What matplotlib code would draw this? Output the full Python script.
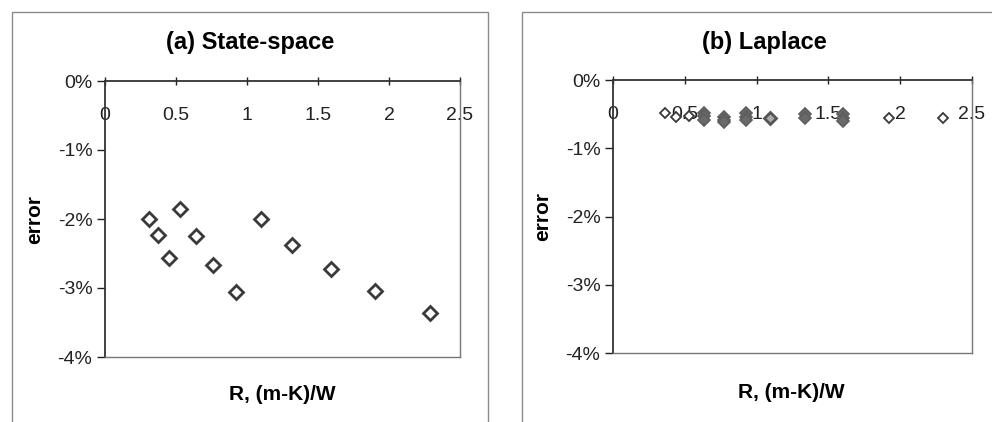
import matplotlib
matplotlib.use("Agg")
import matplotlib.pyplot as plt
from matplotlib.patches import Rectangle
from matplotlib.ticker import FuncFormatter

plt.rcParams['font.family'] = ['Liberation Sans', 'DejaVu Sans']
plt.rcParams['axes.unicode_minus'] = False

# (a) state-space: R vs error (%)
ss_r = [0.31, 0.37, 0.45, 0.53, 0.64, 0.76, 0.92, 1.10, 1.32, 1.59, 1.90, 2.29]
ss_err = [-2.00, -2.23, -2.57, -1.85, -2.24, -2.67, -3.06, -2.00, -2.37, -2.73, -3.04, -3.36]

# (b) laplace: single points (hollow) and stacked points (look filled)
lp_r = [0.36, 0.44, 0.53, 1.92, 2.30]
lp_err = [-0.48, -0.54, -0.53, -0.56, -0.55]
lp_dense_r = [0.635, 0.635, 0.635, 0.77, 0.77, 0.77, 0.925, 0.925, 0.925,
              1.335, 1.335, 1.60, 1.60, 1.60]
lp_dense_err = [-0.48, -0.53, -0.59, -0.54, -0.58, -0.62, -0.49, -0.54, -0.59,
                -0.50, -0.56, -0.50, -0.55, -0.60]
lp_light_r = [1.09]
lp_light_err = [-0.56]

xticks = [0, 0.5, 1, 1.5, 2, 2.5]
xlabels = ['0', '0.5', '1', '1.5', '2', '2.5']
yticks = [0, -1, -2, -3, -4]

fig = plt.figure(figsize=(9.92, 4.22), dpi=100)

# outer chart frames
fig.patches.append(Rectangle((12/992, -0.05), 476/992, 1 - 12/422 + 0.05,
                             transform=fig.transFigure, fill=False,
                             edgecolor='#8a8a8a', lw=1.0))
fig.patches.append(Rectangle((522/992, -0.05), 0.6, 1 - 12/422 + 0.05,
                             transform=fig.transFigure, fill=False,
                             edgecolor='#8a8a8a', lw=1.0))

ax1 = fig.add_axes([105/992, 1 - 357/422, 355/992, 276/422])
ax2 = fig.add_axes([613/992, 1 - 353/422, 359/992, 273/422])


def style(ax, title, pos):
    ax.set_xlim(0, 2.5)
    ax.set_ylim(-4, 0)
    ax.set_xticks(xticks)
    ax.set_xticklabels(xlabels)
    ax.set_yticks(yticks)
    ax.yaxis.set_major_formatter(FuncFormatter(lambda v, p: '%d%%' % round(v)))
    ax.xaxis.tick_top()
    ax.tick_params(axis='x', direction='inout', length=6, width=1, pad=-34,
                   labelsize=14, colors='#222222')
    ax.tick_params(axis='y', direction='out', length=6, width=1, pad=3,
                   labelsize=14, colors='#222222')
    for s in ['left', 'top']:
        ax.spines[s].set_color('#333333')
        ax.spines[s].set_linewidth(1.3)
    for s in ['right', 'bottom']:
        ax.spines[s].set_color('#777777')
        ax.spines[s].set_linewidth(1.0)
    ax.set_ylabel('error', fontsize=15, fontweight='bold', labelpad=10)
    fig.text(pos[0], pos[1], 'R, (m-K)/W', fontsize=15, fontweight='bold',
             ha='center', va='center')
    fig.text(pos[2], pos[3], title, fontsize=17, fontweight='bold',
             ha='center', va='center')


style(ax1, '(a) State-space', (282/992, 1 - 395/422, 250/992, 1 - 43/422))
style(ax2, '(b) Laplace', (791/992, 1 - 393/422, 764/992, 1 - 42/422))

ax1.plot(ss_r, ss_err, linestyle='none', marker='D', ms=6.8, mfc='white',
         mec='#3a3a3a', mew=2.0, clip_on=False)

ax2.plot(lp_dense_r, lp_dense_err, linestyle='none', marker='D', ms=6.5,
         mfc='#6a6a6a', mec='#5e5e5e', mew=1.2, clip_on=False)
ax2.plot(lp_light_r, lp_light_err, linestyle='none', marker='D', ms=6,
         mfc='#aaaaaa', mec='#555555', mew=2.0, clip_on=False)
ax2.plot(lp_r, lp_err, linestyle='none', marker='D', ms=5.5, mfc='white',
         mec='#3a3a3a', mew=1.3, clip_on=False)

fig.savefig('out.png', dpi=100)
